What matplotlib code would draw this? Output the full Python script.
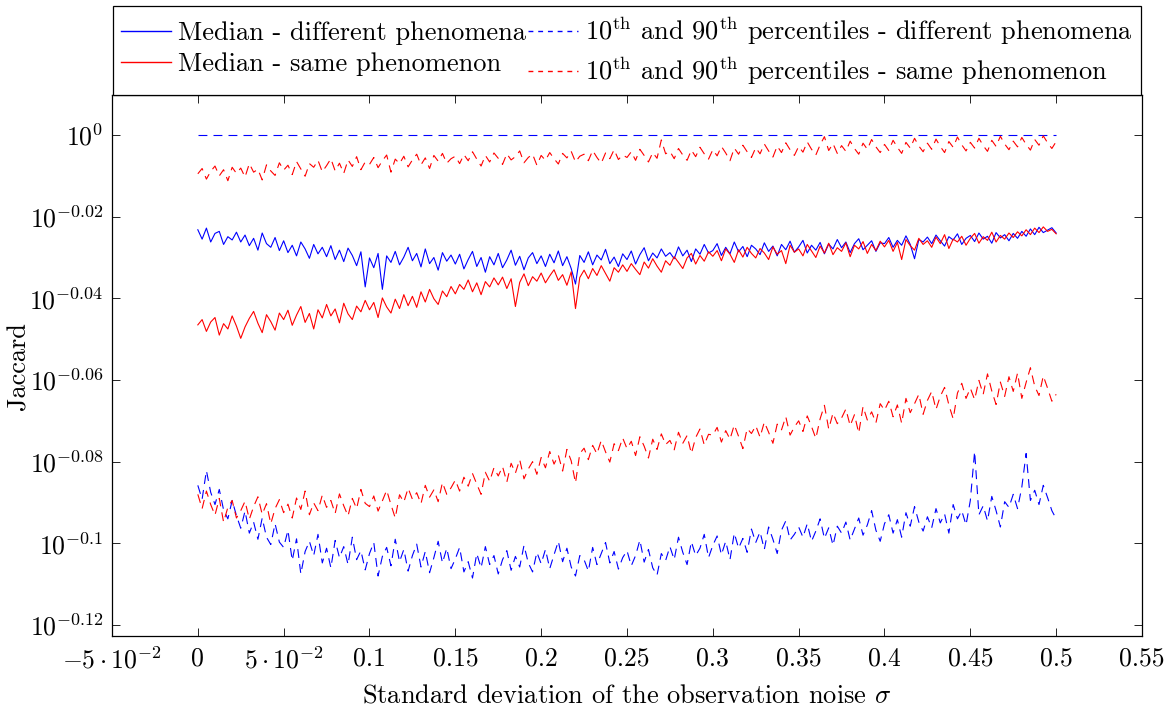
import numpy as np
import matplotlib
matplotlib.use("Agg")
import matplotlib.pyplot as plt
from matplotlib.lines import Line2D
from matplotlib.ticker import FixedLocator, FixedFormatter, NullLocator

plt.rcParams['font.family'] = 'cmr10'
plt.rcParams['mathtext.fontset'] = 'cm'
plt.rcParams['axes.unicode_minus'] = False
plt.rcParams['font.size'] = 18

# standard deviation of the observation noise (x axis)
sigma = np.linspace(0, 0.5, 201)

# log10 of the Jaccard values
log_med_diff = [
    -0.0232, -0.0255, -0.0228, -0.0262, -0.0241, -0.0236, -0.0268, -0.0249, -0.0257, -0.0238,
    -0.0262, -0.0245, -0.0271, -0.0253, -0.0282, -0.0240, -0.0266, -0.0275, -0.0251, -0.0283,
    -0.0259, -0.0288, -0.0270, -0.0296, -0.0262, -0.0279, -0.0302, -0.0268, -0.0291, -0.0275,
    -0.0298, -0.0271, -0.0305, -0.0282, -0.0310, -0.0277, -0.0295, -0.0320, -0.0286, -0.0372,
    -0.0301, -0.0325, -0.0290, -0.0378, -0.0296, -0.0312, -0.0285, -0.0318, -0.0299, -0.0275,
    -0.0308, -0.0290, -0.0323, -0.0279, -0.0315, -0.0300, -0.0331, -0.0288, -0.0309, -0.0294,
    -0.0316, -0.0292, -0.0328, -0.0305, -0.0285, -0.0322, -0.0300, -0.0336, -0.0298, -0.0318,
    -0.0290, -0.0325, -0.0306, -0.0282, -0.0319, -0.0297, -0.0330, -0.0301, -0.0288, -0.0315,
    -0.0296, -0.0322, -0.0292, -0.0313, -0.0284, -0.0320, -0.0298, -0.0327, -0.0365, -0.0295,
    -0.0312, -0.0286, -0.0318, -0.0294, -0.0306, -0.0280, -0.0315, -0.0299, -0.0322, -0.0291,
    -0.0305, -0.0284, -0.0316, -0.0293, -0.0276, -0.0308, -0.0289, -0.0301, -0.0279, -0.0297,
    -0.0288, -0.0303, -0.0274, -0.0296, -0.0282, -0.0310, -0.0279, -0.0292, -0.0268, -0.0289,
    -0.0283, -0.0266, -0.0295, -0.0275, -0.0291, -0.0262, -0.0286, -0.0273, -0.0298, -0.0270,
    -0.0279, -0.0293, -0.0264, -0.0285, -0.0272, -0.0296, -0.0268, -0.0281, -0.0260, -0.0287,
    -0.0274, -0.0258, -0.0289, -0.0270, -0.0282, -0.0263, -0.0291, -0.0267, -0.0279, -0.0256,
    -0.0276, -0.0262, -0.0288, -0.0266, -0.0254, -0.0281, -0.0270, -0.0259, -0.0285, -0.0264,
    -0.0266, -0.0251, -0.0275, -0.0258, -0.0270, -0.0247, -0.0268, -0.0303, -0.0256, -0.0262,
    -0.0250, -0.0266, -0.0245, -0.0259, -0.0272, -0.0249, -0.0257, -0.0242, -0.0268, -0.0253,
    -0.0246, -0.0261, -0.0240, -0.0255, -0.0248, -0.0265, -0.0239, -0.0252, -0.0244, -0.0259,
    -0.0241, -0.0253, -0.0236, -0.0248, -0.0230, -0.0244, -0.0226, -0.0239, -0.0233, -0.0227, -0.0240,
]

log_med_same = [
    -0.0465, -0.0452, -0.0481, -0.0458, -0.0447, -0.0490, -0.0462, -0.0475, -0.0443, -0.0468,
    -0.0498, -0.0470, -0.0449, -0.0432, -0.0461, -0.0484, -0.0440, -0.0457, -0.0478, -0.0436,
    -0.0452, -0.0429, -0.0466, -0.0441, -0.0420, -0.0459, -0.0437, -0.0475, -0.0428, -0.0448,
    -0.0415, -0.0443, -0.0426, -0.0460, -0.0412, -0.0438, -0.0452, -0.0419, -0.0433, -0.0405,
    -0.0428, -0.0410, -0.0447, -0.0399, -0.0421, -0.0436, -0.0402, -0.0425, -0.0391, -0.0418,
    -0.0395, -0.0422, -0.0384, -0.0409, -0.0378, -0.0401, -0.0415, -0.0382, -0.0396, -0.0371,
    -0.0389, -0.0366, -0.0378, -0.0355, -0.0384, -0.0362, -0.0391, -0.0359, -0.0372, -0.0350,
    -0.0367, -0.0348, -0.0376, -0.0352, -0.0420, -0.0361, -0.0340, -0.0369, -0.0347, -0.0358,
    -0.0338, -0.0362, -0.0345, -0.0330, -0.0356, -0.0342, -0.0368, -0.0335, -0.0425, -0.0349,
    -0.0331, -0.0352, -0.0327, -0.0344, -0.0320, -0.0339, -0.0358, -0.0325, -0.0336, -0.0318,
    -0.0334, -0.0315, -0.0329, -0.0342, -0.0311, -0.0326, -0.0303, -0.0321, -0.0336, -0.0308,
    -0.0319, -0.0298, -0.0312, -0.0327, -0.0301, -0.0290, -0.0316, -0.0295, -0.0309, -0.0286,
    -0.0297, -0.0283, -0.0308, -0.0279, -0.0292, -0.0312, -0.0281, -0.0299, -0.0275, -0.0290,
    -0.0301, -0.0278, -0.0289, -0.0305, -0.0274, -0.0292, -0.0283, -0.0315, -0.0270, -0.0287,
    -0.0279, -0.0296, -0.0268, -0.0284, -0.0300, -0.0272, -0.0289, -0.0265, -0.0293, -0.0276,
    -0.0285, -0.0264, -0.0298, -0.0270, -0.0279, -0.0261, -0.0290, -0.0268, -0.0283, -0.0260,
    -0.0274, -0.0258, -0.0285, -0.0263, -0.0305, -0.0256, -0.0271, -0.0282, -0.0253, -0.0268,
    -0.0259, -0.0275, -0.0250, -0.0266, -0.0244, -0.0278, -0.0255, -0.0262, -0.0248, -0.0270,
    -0.0253, -0.0241, -0.0265, -0.0249, -0.0258, -0.0238, -0.0262, -0.0246, -0.0255, -0.0240,
    -0.0251, -0.0237, -0.0247, -0.0232, -0.0244, -0.0228, -0.0239, -0.0225, -0.0236, -0.0231, -0.0242,
]

log_p90_same = [
    -0.0095, -0.0082, -0.0108, -0.0089, -0.0076, -0.0100, -0.0085, -0.0112, -0.0079, -0.0094,
    -0.0081, -0.0103, -0.0070, -0.0091, -0.0084, -0.0110, -0.0073, -0.0088, -0.0099, -0.0068,
    -0.0086, -0.0074, -0.0097, -0.0065, -0.0083, -0.0101, -0.0070, -0.0079, -0.0062, -0.0090,
    -0.0075, -0.0058, -0.0088, -0.0069, -0.0094, -0.0061, -0.0077, -0.0053, -0.0085, -0.0066,
    -0.0072, -0.0055, -0.0080, -0.0063, -0.0049, -0.0091, -0.0059, -0.0070, -0.0052, -0.0078,
    -0.0061, -0.0047, -0.0073, -0.0056, -0.0082, -0.0050, -0.0064, -0.0045, -0.0069, -0.0058,
    -0.0052, -0.0070, -0.0048, -0.0063, -0.0041, -0.0059, -0.0076, -0.0050, -0.0066, -0.0044,
    -0.0057, -0.0072, -0.0046, -0.0061, -0.0053, -0.0039, -0.0068, -0.0055, -0.0047, -0.0074,
    -0.0050, -0.0062, -0.0043, -0.0058, -0.0071, -0.0045, -0.0056, -0.0040, -0.0066, -0.0052,
    -0.0047, -0.0063, -0.0038, -0.0055, -0.0069, -0.0044, -0.0058, -0.0036, -0.0060, -0.0049,
    -0.0055, -0.0041, -0.0062, -0.0035, -0.0050, -0.0066, -0.0043, -0.0057, -0.0012, -0.0046,
    -0.0040, -0.0058, -0.0033, -0.0049, -0.0062, -0.0037, -0.0053, -0.0030, -0.0046, -0.0059,
    -0.0036, -0.0051, -0.0028, -0.0044, -0.0063, -0.0032, -0.0047, -0.0025, -0.0041, -0.0055,
    -0.0031, -0.0046, -0.0022, -0.0039, -0.0054, -0.0027, -0.0043, -0.0019, -0.0036, -0.0050,
    -0.0028, -0.0042, -0.0017, -0.0035, -0.0049, -0.0024, -0.0004, -0.0038, -0.0021, -0.0045,
    -0.0026, -0.0040, -0.0015, -0.0033, -0.0047, -0.0020, -0.0035, -0.0011, -0.0029, -0.0043,
    -0.0023, -0.0038, -0.0013, -0.0030, -0.0045, -0.0018, -0.0032, -0.0008, -0.0027, -0.0041,
    -0.0020, -0.0035, -0.0010, -0.0028, -0.0043, -0.0016, -0.0030, -0.0005, -0.0024, -0.0039,
    -0.0018, -0.0032, -0.0008, -0.0026, -0.0040, -0.0013, -0.0028, -0.0003, -0.0022, -0.0036,
    -0.0015, -0.0029, -0.0006, -0.0023, -0.0037, -0.0011, -0.0025, -0.0002, -0.0019, -0.0033, -0.0016,
]

log_p10_same = [
    -0.0880, -0.0915, -0.0872, -0.0905, -0.0931, -0.0890, -0.0948, -0.0912, -0.0895, -0.0938,
    -0.0920, -0.0897, -0.0941, -0.0910, -0.0886, -0.0929, -0.0903, -0.0952, -0.0915, -0.0893,
    -0.0925, -0.0904, -0.0938, -0.0889, -0.0917, -0.0872, -0.0930, -0.0901, -0.0920, -0.0882,
    -0.0912, -0.0895, -0.0927, -0.0879, -0.0908, -0.0933, -0.0890, -0.0915, -0.0868, -0.0902,
    -0.0910, -0.0884, -0.0921, -0.0896, -0.0870, -0.0905, -0.0938, -0.0881, -0.0899, -0.0865,
    -0.0892, -0.0876, -0.0903, -0.0858, -0.0887, -0.0869, -0.0898, -0.0851, -0.0880, -0.0864,
    -0.0845, -0.0872, -0.0838, -0.0860, -0.0829, -0.0855, -0.0880, -0.0826, -0.0848, -0.0815,
    -0.0835, -0.0812, -0.0850, -0.0804, -0.0828, -0.0795, -0.0842, -0.0818, -0.0800, -0.0831,
    -0.0790, -0.0815, -0.0775, -0.0806, -0.0784, -0.0823, -0.0770, -0.0798, -0.0852, -0.0780,
    -0.0767, -0.0795, -0.0760, -0.0781, -0.0748, -0.0776, -0.0801, -0.0756, -0.0773, -0.0742,
    -0.0768, -0.0750, -0.0785, -0.0739, -0.0762, -0.0791, -0.0745, -0.0770, -0.0732, -0.0758,
    -0.0748, -0.0771, -0.0728, -0.0755, -0.0736, -0.0780, -0.0741, -0.0720, -0.0759, -0.0733,
    -0.0735, -0.0716, -0.0752, -0.0724, -0.0745, -0.0710, -0.0738, -0.0768, -0.0719, -0.0731,
    -0.0712, -0.0740, -0.0703, -0.0728, -0.0755, -0.0708, -0.0722, -0.0690, -0.0735, -0.0715,
    -0.0700, -0.0726, -0.0688, -0.0714, -0.0743, -0.0695, -0.0662, -0.0720, -0.0681, -0.0707,
    -0.0693, -0.0671, -0.0712, -0.0685, -0.0730, -0.0665, -0.0698, -0.0678, -0.0705, -0.0658,
    -0.0674, -0.0652, -0.0690, -0.0661, -0.0706, -0.0645, -0.0680, -0.0658, -0.0635, -0.0684,
    -0.0650, -0.0628, -0.0672, -0.0640, -0.0618, -0.0661, -0.0695, -0.0632, -0.0608, -0.0645,
    -0.0620, -0.0648, -0.0601, -0.0635, -0.0585, -0.0627, -0.0660, -0.0605, -0.0640, -0.0592,
    -0.0628, -0.0583, -0.0645, -0.0606, -0.0570, -0.0615, -0.0638, -0.0590, -0.0620, -0.0652, -0.0635,
]

log_p10_diff = [
    -0.0858, -0.0892, -0.0822, -0.0875, -0.0905, -0.0868, -0.0918, -0.0940, -0.0895, -0.0932,
    -0.0963, -0.0921, -0.0975, -0.0948, -0.0990, -0.0938, -0.0985, -0.1003, -0.0952, -0.0997,
    -0.1010, -0.0968, -0.1042, -0.0989, -0.1075, -0.1020, -0.0995, -0.1030, -0.0978, -0.1048,
    -0.1012, -0.1060, -0.0993, -0.1035, -0.1008, -0.1052, -0.0985, -0.1040, -0.1018, -0.1065,
    -0.1025, -0.0998, -0.1080, -0.1032, -0.1010, -0.1055, -0.0990, -0.1045, -0.1015, -0.1068,
    -0.1030, -0.1002, -0.1058, -0.1020, -0.1072, -0.1035, -0.0995, -0.1048, -0.1012, -0.1062,
    -0.1038, -0.1010, -0.1070, -0.1045, -0.1085, -0.1025, -0.1060, -0.1008, -0.1052, -0.1030,
    -0.1075, -0.1040, -0.1018, -0.1066, -0.1032, -0.1058, -0.1005, -0.1048, -0.1070, -0.1022,
    -0.1050, -0.1015, -0.1062, -0.1028, -0.0995, -0.1045, -0.1012, -0.1058, -0.1080, -0.1030,
    -0.1040, -0.1068, -0.1010, -0.1052, -0.1025, -0.0998, -0.1048, -0.1020, -0.1063, -0.1035,
    -0.1018, -0.1055, -0.1030, -0.0992, -0.1046, -0.1015, -0.1060, -0.1078, -0.1025, -0.1042,
    -0.1008, -0.1040, -0.0985, -0.1022, -0.1052, -0.0996, -0.1030, -0.1012, -0.0978, -0.1035,
    -0.1005, -0.0982, -0.1028, -0.0995, -0.1040, -0.0975, -0.1012, -0.0988, -0.1022, -0.0965,
    -0.0998, -0.0972, -0.1015, -0.0960, -0.0990, -0.1025, -0.0968, -0.0945, -0.0992, -0.0978,
    -0.0960, -0.0985, -0.0952, -0.0995, -0.0970, -0.0940, -0.0988, -0.0962, -0.1005, -0.0958,
    -0.0975, -0.0948, -0.0992, -0.0965, -0.0938, -0.0980, -0.0955, -0.0920, -0.0968, -0.0995,
    -0.0952, -0.0930, -0.0975, -0.0942, -0.0985, -0.0925, -0.0958, -0.0910, -0.0948, -0.0970,
    -0.0935, -0.0962, -0.0915, -0.0950, -0.0928, -0.0975, -0.0905, -0.0940, -0.0920, -0.0955,
    -0.0895, -0.0775, -0.0930, -0.0908, -0.0945, -0.0885, -0.0920, -0.0960, -0.0898, -0.0912,
    -0.0880, -0.0915, -0.0862, -0.0780, -0.0895, -0.0870, -0.0905, -0.0858, -0.0888, -0.0920, -0.0940,
]

# 90th percentile for different phenomena sits at Jaccard = 1 everywhere
log_p90_diff = [0.0] * len(sigma)

xtick_vals = [-0.05, 0, 0.05, 0.1, 0.15, 0.2, 0.25, 0.3, 0.35, 0.4, 0.45, 0.5, 0.55]
xtick_labels = [r'$-5\cdot10^{-2}$', '0', r'$5\cdot10^{-2}$', '0.1', '0.15', '0.2', '0.25',
                '0.3', '0.35', '0.4', '0.45', '0.5', '0.55']
ytick_exps = [0, -0.02, -0.04, -0.06, -0.08, -0.1, -0.12]
ytick_labels = [r'$10^{0}$', r'$10^{-0.02}$', r'$10^{-0.04}$', r'$10^{-0.06}$',
                r'$10^{-0.08}$', r'$10^{-0.1}$', r'$10^{-0.12}$']

blue = '#0000ff'
red = '#ff0000'
lw = 0.8
dash = (0, (8, 5.5))

fig = plt.figure(figsize=(11.69, 7.10), dpi=100)
ax = fig.add_axes([0.0958, 0.1042, 0.8811, 0.7620])

def j(v):
    return 10 ** np.asarray(v)

ax.plot(sigma, j(log_med_diff), color=blue, lw=lw)
ax.plot(sigma, j(log_p10_diff), color=blue, lw=lw, linestyle=dash)
ax.plot(sigma, j(log_p90_diff), color=blue, lw=lw, linestyle=dash)
ax.plot(sigma, j(log_med_same), color=red, lw=lw)
ax.plot(sigma, j(log_p10_same), color=red, lw=lw, linestyle=dash)
ax.plot(sigma, j(log_p90_same), color=red, lw=lw, linestyle=dash)

ax.set_yscale('log')
ax.set_xlim(-0.05, 0.55)
ax.set_ylim(10 ** -0.1227, 10 ** 0.0098)

ax.xaxis.set_major_locator(FixedLocator(xtick_vals))
ax.xaxis.set_major_formatter(FixedFormatter(xtick_labels))
ax.yaxis.set_major_locator(FixedLocator([10 ** e for e in ytick_exps]))
ax.yaxis.set_major_formatter(FixedFormatter(ytick_labels))
ax.yaxis.set_minor_locator(NullLocator())

ax.tick_params(direction='in', length=6, width=0.6, top=True, right=True, labelsize=18.5)
ax.tick_params(axis='x', pad=8)
ax.tick_params(axis='y', pad=6)
for s in ax.spines.values():
    s.set_linewidth(0.9)

ax.set_xlabel(r'Standard deviation of the observation noise $\sigma$', fontsize=19, labelpad=7)
ax.set_ylabel('Jaccard', fontsize=19)
ax.yaxis.set_label_coords(-0.079, 0.5)

# legend handles: short dashes like the pgfplots legend images
leg_dash = (0, (3.5, 3.5))
hd = [Line2D([], [], color=blue, lw=1.0),
      Line2D([], [], color=red, lw=1.0),
      Line2D([], [], color=blue, lw=1.0, linestyle=leg_dash),
      Line2D([], [], color=red, lw=1.0, linestyle=leg_dash)]
pct = r'10$^{\mathrm{th}}$ and 90$^{\mathrm{th}}$ percentiles'
leg = ax.legend(hd,
                ['Median - different phenomena', 'Median - same phenomenon',
                 pct + ' - different phenomena', pct + ' - same phenomenon'],
                ncol=2, loc='lower center', bbox_to_anchor=(0.5, 1.0),
                borderaxespad=0, fancybox=False, framealpha=1,
                edgecolor='black', fontsize=19, handlelength=1.9,
                handletextpad=0.25, columnspacing=0.1, labelspacing=0.3,
                borderpad=0.3)
leg.get_frame().set_linewidth(0.9)

fig.savefig('out.png', dpi=100)
